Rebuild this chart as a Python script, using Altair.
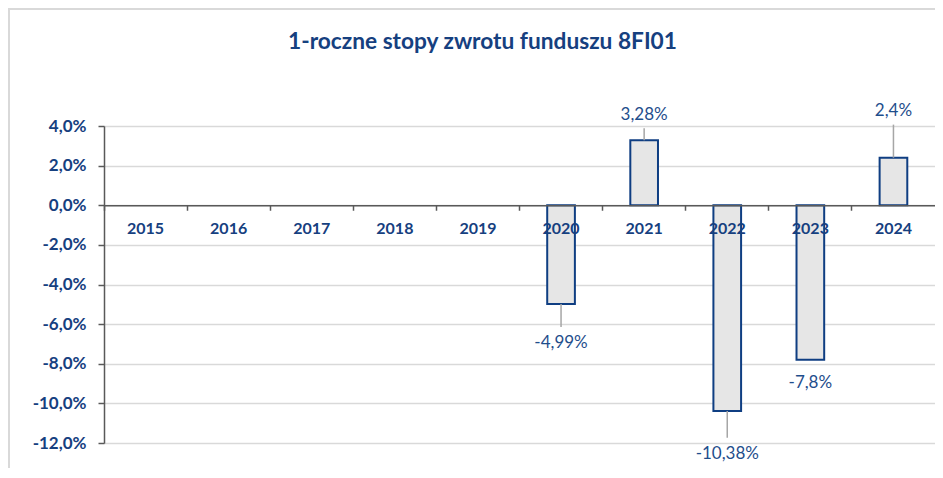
import altair as alt
import pandas as pd

# ---- data ----
years = ["2015", "2016", "2017", "2018", "2019", "2020", "2021", "2022", "2023", "2024"]
returns = [None, None, None, None, None, -4.99, 3.28, -10.38, -7.8, 2.4]
# where Excel placed each data label (in % units)
label_at = [None, None, None, None, None, -6.94, 4.57, -12.53, -8.99, 4.75]
y_ticks = [-12, -10, -8, -6, -4, -2, 0, 2, 4]
title_text = "1-roczne stopy zwrotu funduszu 8FI01"

df = pd.DataFrame({"year": years, "value": returns, "label_at": label_at})

W, H = 831, 317
Y_MIN, Y_MAX = -12, 4
DARK = "#16407F"
LABEL = "#1F4E8C"
AXIS_GRAY = "#595959"
FONT = "Lato"

x_axis = alt.Axis(
    orient="bottom",
    offset=-H * (0 - Y_MIN) / (Y_MAX - Y_MIN),
    bandPosition=0,
    zindex=1,
    domainColor=AXIS_GRAY, domainWidth=1.5,
    tickColor=AXIS_GRAY, tickWidth=1.5, tickSize=5,
    labelFont=FONT, labelFontSize=16, labelFontWeight="bold", labelColor=DARK,
    labelPadding=10, labelAngle=0, grid=False, title=None,
)
x_enc = alt.X("year:O", scale=alt.Scale(domain=years, paddingInner=0, paddingOuter=0), axis=x_axis)

y_axis = alt.Axis(
    values=y_ticks,
    labelExpr="(datum.value < 0 ? '-' : '') + replace(format(abs(datum.value), '.1f'), '.', ',') + '%'",
    grid=True, gridColor="#D9D9D9", gridWidth=1.5,
    domainColor=AXIS_GRAY, domainWidth=1.5,
    tickColor=AXIS_GRAY, tickWidth=1.5, tickSize=6,
    labelFont=FONT, labelFontSize=17, labelFontWeight="bold", labelColor=DARK,
    labelPadding=12, title=None,
)
y_scale = alt.Scale(domain=[Y_MIN, Y_MAX], nice=False, zero=False)

base = alt.Chart(df)

bars = base.mark_bar(
    width=alt.RelativeBandSize(0.333), fill="#E6E6E6", stroke="#0F3E82", strokeWidth=2
).transform_filter("isValid(datum.value)").encode(
    x=x_enc, y=alt.Y("value:Q", scale=y_scale, axis=y_axis)
)

leaders = base.mark_rule(color="#A6A6A6", strokeWidth=1.5).transform_filter(
    "isValid(datum.value)"
).transform_calculate(
    leader_end="datum.label_at > datum.value ? datum.label_at - 0.68 : datum.label_at + 0.8"
).transform_filter(
    "abs(datum.label_at - datum.value) > 1.25"
).encode(
    x=x_enc, y=alt.Y("value:Q", scale=y_scale, axis=y_axis), y2="leader_end:Q"
)

labels = base.mark_text(
    font=FONT, fontSize=17, color=LABEL, baseline="middle", align="center"
).transform_filter("isValid(datum.value)").transform_calculate(
    txt="replace(toString(datum.value), '.', ',') + '%'"
).encode(
    x=x_enc, y=alt.Y("label_at:Q", scale=y_scale, axis=y_axis), text="txt:N"
)

frame = alt.Chart(pd.DataFrame({"k": [0]})).mark_rect(
    fillOpacity=0, stroke="#D9D9D9", strokeWidth=2
).encode(
    x=alt.value(-95), x2=alt.value(W + 60), y=alt.value(-117), y2=alt.value(H + 80)
)

chart = alt.layer(frame, bars, leaders, labels).properties(
    width=W, height=H,
    padding={"left": 96, "top": 118, "right": 0, "bottom": 25},
    autosize="none",
    title=alt.TitleParams(
        title_text, font=FONT, fontSize=22.7, fontWeight="bold", color=DARK,
        anchor="middle", frame="group", dx=-37, offset=-64, baseline="alphabetic",
    ),
).configure_view(stroke=None).configure(background="white")

chart.save("out.html", embed_options={"renderer": "svg", "actions": False})
